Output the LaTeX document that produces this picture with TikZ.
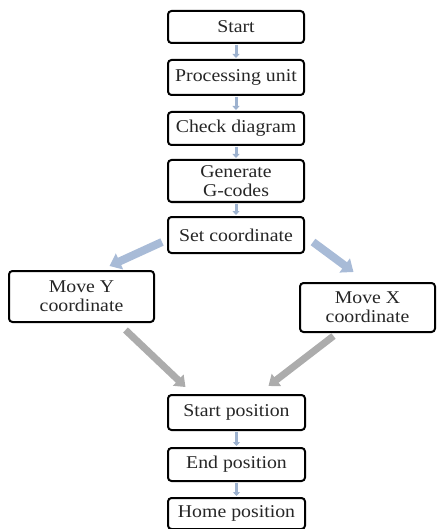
\documentclass[tikz,border=0pt]{standalone}
\usepackage{fontspec}
\setmainfont{Liberation Serif}[FakeStretch=1.1]
\usetikzlibrary{arrows.meta,calc}
\definecolor{bluearr}{HTML}{A8BBD7}
\definecolor{grayarr}{HTML}{ACACAC}
\definecolor{smallarr}{HTML}{9DB2CF}
\definecolor{txt}{HTML}{262626}
\begin{document}
\begin{tikzpicture}[x=1pt,y=-1pt,
  box/.style={draw=black, line width=2pt, rounded corners=3.5pt, fill=white,
    inner sep=0pt, align=center, text=txt,
    font=\fontsize{18}{19}\selectfont},
  bigblue/.style={draw=bluearr, line width=8pt, -{Triangle[width=17pt,length=11pt]}},
  biggray/.style={draw=grayarr, line width=7pt, -{Triangle[width=15pt,length=10pt]}},
  small/.style={draw=smallarr, line width=3pt, -{Triangle[width=7pt,length=4pt]}}
]
\useasboundingbox (0,0) rectangle (437,529);
% boxes
\node[box, minimum width=136pt, minimum height=32pt] (start) at (236,27) {Start};
\node[box, minimum width=136pt, minimum height=35pt] (proc) at (236,77.5) {Processing unit};
\node[box, minimum width=136pt, minimum height=33pt] (check) at (236,128.5) {Check diagram};
\node[box, minimum width=136pt, minimum height=42pt] (gen) at (236,181) {Generate\\G-codes};
\node[box, minimum width=136pt, minimum height=36pt] (set) at (236,235) {Set coordinate};
\node[box, minimum width=145pt, minimum height=51pt] (movey) at (81.5,296.5) {Move Y\\coordinate};
\node[box, minimum width=135pt, minimum height=49pt] (movex) at (367.5,307.5) {Move X\\coordinate};
\node[box, minimum width=137pt, minimum height=35pt] (spos) at (236.5,412.5) {Start position};
\node[box, minimum width=137pt, minimum height=33pt] (epos) at (236.5,464.5) {End position};
\node[box, minimum width=137pt, minimum height=31pt] (home) at (236.5,513.5) {Home position};
% small arrows
\draw[small] ($(start.south)+(0,1)$) -- ($(proc.north)+(0,-1)$);
\draw[small] ($(proc.south)+(0,1)$) -- ($(check.north)+(0,-1)$);
\draw[small] ($(check.south)+(0,1)$) -- ($(gen.north)+(0,-1)$);
\draw[small] ($(gen.south)+(0,1)$) -- ($(set.north)+(0,-1)$);
\draw[small] ($(spos.south)+(0,1)$) -- ($(epos.north)+(0,-1)$);
\draw[small] ($(epos.south)+(0,1)$) -- ($(home.north)+(0,-1)$);
% big arrows
\draw[bigblue] ($(set.west)+(-5,7)$) -- ($(movey.north)+(28,-4)$);
\draw[bigblue] ($(set.east)+(8,7)$) -- ($(movex.north)+(-14,-10)$);
\draw[biggray] ($(movey.south)+(44,7)$) -- ($(spos.north)+(-51,-7)$);
\draw[biggray] ($(movex.south)+(-34,3)$) -- ($(spos.north)+(32,-8)$);
\end{tikzpicture}
\end{document}
